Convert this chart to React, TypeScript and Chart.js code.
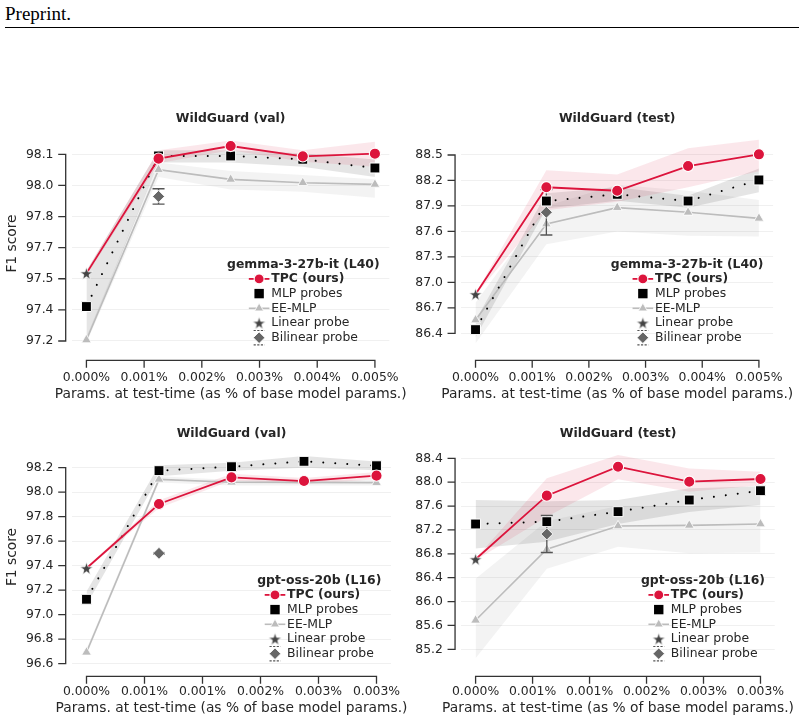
import React, { useEffect, useRef } from "react";
import { Chart, registerables } from "chart.js";

Chart.register(...registerables);

// ---------- data ----------
// x positions: parameters used at test time (% of base model params)
const paramsGemma = [0, 0.00125, 0.0025, 0.00375, 0.005];
const paramsGpt = [0, 0.0008125, 0.001625, 0.0024375, 0.00325];

const xTicksGemma = [0, 0.001, 0.002, 0.003, 0.004, 0.005];
const xTickLabelsGemma = ["0.000%", "0.001%", "0.002%", "0.003%", "0.004%", "0.005%"];
const xTicksGpt = [0, 0.00065, 0.0013, 0.00195, 0.0026, 0.00325];
const xTickLabelsGpt = ["0.000%", "0.001%", "0.001%", "0.002%", "0.003%", "0.003%"];
const xAxisTitle = "Params. at test-time (as % of base model params.)";

// gemma-3-27b-it (L40), WildGuard (val)
const gvTicks = [97.2, 97.35, 97.5, 97.65, 97.8, 97.95, 98.1];
const gvTickLabels = ["97.2", "97.4", "97.5", "97.7", "97.8", "98.0", "98.1"];
const gvTpc = [97.526, 98.079, 98.14, 98.09, 98.103];
const gvTpcLo = [97.515, 98.057, 98.12, 98.064, 98.04];
const gvTpcHi = [97.537, 98.12, 98.166, 98.12, 98.16];
const gvMlp = [97.366, 98.092, 98.092, 98.076, 98.034];
const gvMlpLo = [97.2, 98.06, 98.06, 98.04, 97.99];
const gvMlpHi = [97.54, 98.12, 98.12, 98.105, 98.075];
const gvEe = [97.205, 98.026, 97.979, 97.963, 97.955];
const gvEeLo = [97.19, 97.99, 97.93, 97.92, 97.89];
const gvEeHi = [97.22, 98.06, 98.02, 98.0, 97.98];
const gvLinear = 97.526;
const gvBilinear = 97.897;
const gvBilinearErr = 0.037;

// gemma-3-27b-it (L40), WildGuard (test)
const gtTicks = [86.4, 86.7, 87.0, 87.3, 87.6, 87.9, 88.2, 88.5];
const gtTickLabels = ["86.4", "86.7", "87.0", "87.3", "87.6", "87.9", "88.2", "88.5"];
const gtTpc = [86.859, 88.12, 88.079, 88.37, 88.508];
const gtTpcLo = [86.85, 87.85, 87.95, 88.12, 88.31];
const gtTpcHi = [86.87, 88.32, 88.27, 88.58, 88.68];
const gtMlp = [86.443, 87.958, 88.037, 87.958, 88.206];
const gtMlpLo = [86.35, 87.87, 87.96, 87.88, 88.06];
const gtMlpHi = [86.55, 88.05, 88.12, 88.02, 88.34];
const gtEe = [86.556, 87.687, 87.88, 87.825, 87.754];
const gtEeLo = [86.28, 87.45, 87.6, 87.55, 87.54];
const gtEeHi = [86.76, 87.9, 88.15, 88.08, 87.97];
const gtLinear = 86.859;
const gtBilinear = 87.825;
const gtBilinearErr = 0.267;

// gpt-oss-20b (L16), WildGuard (val)
const ovTicks = [96.6, 96.8, 97.0, 97.2, 97.4, 97.6, 97.8, 98.0, 98.2];
const ovTickLabels = ["96.6", "96.8", "97.0", "97.2", "97.4", "97.6", "97.8", "98.0", "98.2"];
const ovTpc = [97.379, 97.904, 98.121, 98.091, 98.135];
const ovTpcLo = [97.37, 97.87, 98.095, 98.065, 98.105];
const ovTpcHi = [97.39, 97.935, 98.15, 98.115, 98.165];
const ovMlp = [97.126, 98.176, 98.208, 98.252, 98.216];
const ovMlpLo = [97.08, 98.13, 98.175, 98.2, 98.18];
const ovMlpHi = [97.19, 98.22, 98.24, 98.295, 98.25];
const ovEe = [96.693, 98.105, 98.081, 98.08, 98.078];
const ovEeLo = [96.67, 98.08, 98.055, 98.055, 98.055];
const ovEeHi = [96.72, 98.13, 98.1, 98.1, 98.1];
const ovLinear = 97.379;
const ovBilinear = 97.501;
const ovBilinearErr = 0.006;

// gpt-oss-20b (L16), WildGuard (test)
const otTicks = [85.2, 85.6, 86.0, 86.4, 86.8, 87.2, 87.6, 88.0, 88.4];
const otTickLabels = ["85.2", "85.6", "86.0", "86.4", "86.8", "87.2", "87.6", "88.0", "88.4"];
const otTpc = [86.708, 87.774, 88.259, 88.008, 88.053];
const otTpcLo = [86.69, 87.42, 88.05, 87.84, 87.95];
const otTpcHi = [86.72, 88.065, 88.455, 88.23, 88.175];
const otMlp = [87.299, 87.338, 87.506, 87.701, 87.857];
const otMlpLo = [86.89, 87.0, 87.3, 87.5, 87.62];
const otMlpHi = [87.7, 87.68, 87.7, 87.9, 87.93];
const otEe = [85.686, 86.876, 87.266, 87.277, 87.299];
const otEeLo = [85.05, 86.55, 86.92, 86.81, 86.82];
const otEeHi = [86.38, 87.35, 87.6, 87.6, 87.62];
const otLinear = 86.708;
const otBilinear = 87.132;
const otBilinearErr = 0.31;

const seriesNames = ["TPC (ours)", "MLP probes", "EE-MLP", "Linear probe", "Bilinear probe"];

// ---------- styling ----------
const FAMILY = '"DejaVu Sans", sans-serif';
const FS_TICK = 12.4;
const FS_LABEL = 13.8;
const FS_LEGEND = 12.4;
const TEXT = "#262626";
const RED = "#dc143c";
const MLP_COLOR = "#000000";
const EE_COLOR = "#bcbcbc";
const STAR_COLOR = "#444444";
const DIAMOND_COLOR = "#666666";
const ERR_COLOR = "#555555";

let starCache: HTMLCanvasElement | null = null;
function starImage(): HTMLCanvasElement {
  if (starCache) return starCache;
  const size = 15;
  const c = document.createElement("canvas");
  c.width = size;
  c.height = size;
  const g = c.getContext("2d")!;
  const cx = size / 2;
  const cy = size / 2 + 0.6;
  const R = 6.6;
  const r = R * 0.4;
  g.beginPath();
  for (let i = 0; i < 10; i++) {
    const a = -Math.PI / 2 + (i * Math.PI) / 5;
    const rad = i % 2 === 0 ? R : r;
    g.lineTo(cx + rad * Math.cos(a), cy + rad * Math.sin(a));
  }
  g.closePath();
  g.fillStyle = STAR_COLOR;
  g.fill();
  g.strokeStyle = "#ffffff";
  g.lineWidth = 0.7;
  g.stroke();
  starCache = c;
  return c;
}

type PanelSpec = {
  title: string;
  model: string;
  xs: number[];
  xTicks: number[];
  xTickLabels: string[];
  yTicks: number[];
  yTickLabels: string[];
  yMin: number;
  yMax: number;
  tpc: number[];
  tpcLo: number[];
  tpcHi: number[];
  mlp: number[];
  mlpLo: number[];
  mlpHi: number[];
  ee: number[];
  eeLo: number[];
  eeHi: number[];
  linear: number;
  bilinear: number;
  bilinearErr: number;
};

type Frame = {
  left: number;
  top: number;
  width: number;
  height: number;
  yAxisWidth: number;
  padRight: number;
  titleBottom: number;
  xAxisHeight: number;
  xLabelPad: number;
  xTitleOffset: number;
  showYTitle: boolean;
};

// axis spines offset outward and trimmed to the tick range, with tick marks,
// plus the x-axis title (drawn at its natural width, wider than the plot area)
const spinePlugin = {
  id: "offsetSpines",
  afterDraw(chart: any, _args: any, opts: any) {
    const { ctx, chartArea, scales } = chart;
    const x = scales.x;
    const y = scales.y;
    ctx.save();
    ctx.strokeStyle = "#333333";
    ctx.lineWidth = 1.3;
    const sx = chartArea.left - 6.3;
    const yt = y.ticks;
    const yTop = y.getPixelForValue(yt[yt.length - 1].value);
    const yBot = y.getPixelForValue(yt[0].value);
    ctx.beginPath();
    ctx.moveTo(sx, yTop - 0.65);
    ctx.lineTo(sx, yBot + 0.65);
    for (const t of yt) {
      const py = y.getPixelForValue(t.value);
      ctx.moveTo(sx - 7.5, py);
      ctx.lineTo(sx, py);
    }
    ctx.stroke();
    const sy = chartArea.bottom + 10.3;
    const xt = x.ticks;
    const xL = x.getPixelForValue(xt[0].value);
    const xR = x.getPixelForValue(xt[xt.length - 1].value);
    ctx.beginPath();
    ctx.moveTo(xL - 0.65, sy);
    ctx.lineTo(xR + 0.65, sy);
    for (const t of xt) {
      const px = x.getPixelForValue(t.value);
      ctx.moveTo(px, sy);
      ctx.lineTo(px, sy + 7.5);
    }
    ctx.stroke();

    ctx.fillStyle = TEXT;
    ctx.font = `${FS_LABEL}px ${FAMILY}`;
    ctx.textAlign = "center";
    ctx.textBaseline = "middle";
    ctx.fillText(opts.xTitle, (chartArea.left + chartArea.right) / 2, chartArea.bottom + opts.xTitleOffset);
    ctx.restore();
  },
};

function drawHandle(ctx: CanvasRenderingContext2D, kind: number, x0: number, y: number, w: number) {
  const cx = x0 + w / 2;
  ctx.save();
  if (kind === 0) {
    ctx.strokeStyle = RED;
    ctx.lineWidth = 1.8;
    ctx.beginPath();
    ctx.moveTo(x0, y);
    ctx.lineTo(x0 + w, y);
    ctx.stroke();
    ctx.beginPath();
    ctx.arc(cx, y, 5, 0, Math.PI * 2);
    ctx.fillStyle = RED;
    ctx.fill();
    ctx.strokeStyle = "#fff";
    ctx.lineWidth = 1.1;
    ctx.stroke();
  } else if (kind === 1) {
    ctx.fillStyle = MLP_COLOR;
    ctx.fillRect(cx - 4.7, y - 4.7, 9.4, 9.4);
  } else if (kind === 2) {
    ctx.strokeStyle = EE_COLOR;
    ctx.lineWidth = 1.6;
    ctx.beginPath();
    ctx.moveTo(x0, y);
    ctx.lineTo(x0 + w, y);
    ctx.stroke();
    const r = 5.2;
    ctx.beginPath();
    ctx.moveTo(cx, y - r);
    ctx.lineTo(cx + r * 0.866, y + r * 0.5);
    ctx.lineTo(cx - r * 0.866, y + r * 0.5);
    ctx.closePath();
    ctx.fillStyle = EE_COLOR;
    ctx.fill();
    ctx.strokeStyle = "#fff";
    ctx.lineWidth = 0.8;
    ctx.stroke();
  } else if (kind === 3) {
    const img = starImage();
    ctx.drawImage(img, cx - img.width / 2, y - img.height / 2);
  } else {
    ctx.strokeStyle = ERR_COLOR;
    ctx.lineWidth = 1.2;
    ctx.setLineDash([2.2, 1.4]);
    ctx.beginPath();
    ctx.moveTo(cx - 5.5, y - 7.2);
    ctx.lineTo(cx + 5.5, y - 7.2);
    ctx.moveTo(cx - 5.5, y + 7.2);
    ctx.lineTo(cx + 5.5, y + 7.2);
    ctx.stroke();
    ctx.setLineDash([]);
    const r = 5.8;
    ctx.beginPath();
    ctx.moveTo(cx, y - r);
    ctx.lineTo(cx + r, y);
    ctx.lineTo(cx, y + r);
    ctx.lineTo(cx - r, y);
    ctx.closePath();
    ctx.fillStyle = DIAMOND_COLOR;
    ctx.fill();
    ctx.strokeStyle = "#fff";
    ctx.lineWidth = 0.9;
    ctx.stroke();
  }
  ctx.restore();
}

// legend in the lower right of the plot area: bold title, marker handles, labels
const legendPlugin = {
  id: "probeLegend",
  afterDatasetsDraw(chart: any, _args: any, opts: any) {
    const { ctx, chartArea } = chart;
    const rowH = 14.7;
    const handleW = 20.6;
    const gap = 1.8;
    ctx.save();
    ctx.font = `bold ${FS_LEGEND}px ${FAMILY}`;
    const titleW = ctx.measureText(opts.title).width;
    let textW = 0;
    seriesNames.forEach((name, i) => {
      ctx.font = `${i === 0 ? "bold " : ""}${FS_LEGEND}px ${FAMILY}`;
      textW = Math.max(textW, ctx.measureText(name).width);
    });
    const entriesW = handleW + gap + textW;
    const boxW = Math.max(titleW, entriesW);
    const right = chartArea.right - 9.7;
    const cx = right - boxW / 2;
    const lastY = chartArea.bottom - 12.3;
    const firstY = lastY - rowH * (seriesNames.length - 1);
    ctx.textBaseline = "middle";
    ctx.fillStyle = TEXT;
    ctx.textAlign = "center";
    ctx.font = `bold ${FS_LEGEND}px ${FAMILY}`;
    ctx.fillText(opts.title, cx, firstY - 14.4);
    const ex = cx - entriesW / 2;
    ctx.textAlign = "left";
    seriesNames.forEach((name, i) => {
      const y = firstY + i * rowH;
      drawHandle(ctx, i, ex, y, handleW);
      ctx.font = `${i === 0 ? "bold " : ""}${FS_LEGEND}px ${FAMILY}`;
      ctx.fillStyle = TEXT;
      ctx.fillText(name, ex + handleW + gap, y);
    });
    ctx.restore();
  },
};

function buildConfig(p: PanelSpec, f: Frame): any {
  const pts = (ys: number[]) => ys.map((y, i) => ({ x: p.xs[i], y }));
  const xMaxData = p.xs[p.xs.length - 1];
  const tickFont = { family: FAMILY, size: FS_TICK, lineHeight: 1.2 };
  const labelFont = { family: FAMILY, size: FS_LABEL, lineHeight: 1.2 };
  const band = (hi: number[], lo: number[], color: string, order: number) => [
    {
      data: pts(hi),
      fill: "+1",
      backgroundColor: color,
      borderColor: "transparent",
      borderWidth: 0,
      pointRadius: 0,
      order,
    },
    {
      data: pts(lo),
      fill: false,
      borderColor: "transparent",
      borderWidth: 0,
      pointRadius: 0,
      order,
    },
  ];
  return {
    type: "line",
    data: {
      datasets: [
        {
          label: seriesNames[3],
          data: [{ x: p.xs[0], y: p.linear }],
          showLine: false,
          pointStyle: starImage(),
          pointRadius: 7,
          order: 0,
        },
        {
          label: seriesNames[0],
          data: pts(p.tpc),
          borderColor: RED,
          borderWidth: 1.8,
          pointStyle: "circle",
          pointBackgroundColor: RED,
          pointBorderColor: "#ffffff",
          pointBorderWidth: 1.1,
          pointRadius: (c: any) => (c.dataIndex === 0 ? 0 : 5.6),
          order: 1,
        },
        {
          label: seriesNames[1],
          data: pts(p.mlp),
          borderColor: MLP_COLOR,
          borderWidth: 2,
          borderDash: [0.01, 12],
          borderCapStyle: "round",
          pointStyle: "rect",
          pointBackgroundColor: MLP_COLOR,
          pointBorderColor: "#ffffff",
          pointBorderWidth: 1,
          pointRadius: 7,
          order: 2,
        },
        {
          label: seriesNames[4],
          data: [{ x: p.xs[1], y: p.bilinear }],
          showLine: false,
          pointStyle: "rectRot",
          pointBackgroundColor: DIAMOND_COLOR,
          pointBorderColor: "#ffffff",
          pointBorderWidth: 0.9,
          pointRadius: 6,
          order: 3,
        },
        {
          data: [
            { x: p.xs[1], y: p.bilinear - p.bilinearErr },
            { x: p.xs[1], y: p.bilinear + p.bilinearErr },
          ],
          borderColor: ERR_COLOR,
          borderWidth: 1.3,
          pointStyle: "line",
          pointBorderColor: ERR_COLOR,
          pointBorderWidth: 1.3,
          pointRadius: 6,
          order: 4,
        },
        {
          label: seriesNames[2],
          data: pts(p.ee),
          borderColor: EE_COLOR,
          borderWidth: 1.6,
          pointStyle: "triangle",
          pointBackgroundColor: EE_COLOR,
          pointBorderColor: "#ffffff",
          pointBorderWidth: 0.8,
          pointRadius: 5.6,
          order: 5,
        },
        ...band(p.tpcHi, p.tpcLo, "rgba(220,20,60,0.10)", 6),
        ...band(p.mlpHi, p.mlpLo, "rgba(0,0,0,0.10)", 7),
        ...band(p.eeHi, p.eeLo, "rgba(90,90,90,0.07)", 8),
      ],
    },
    options: {
      responsive: false,
      animation: false,
      events: [],
      layout: { padding: { left: 0, right: f.padRight, top: 0, bottom: 0 } },
      elements: { line: { tension: 0 } },
      plugins: {
        legend: { display: false },
        tooltip: { enabled: false },
        title: {
          display: true,
          text: p.title,
          fullSize: false,
          color: TEXT,
          font: { family: FAMILY, size: FS_LEGEND, weight: "bold", lineHeight: 1.2 },
          padding: { top: 10.86, bottom: f.titleBottom },
        },
        probeLegend: { title: p.model },
        offsetSpines: { xTitle: xAxisTitle, xTitleOffset: f.xTitleOffset },
      },
      scales: {
        x: {
          type: "linear",
          min: -0.05 * xMaxData,
          max: 1.05 * xMaxData,
          grid: { display: false, drawTicks: false },
          border: { display: false },
          ticks: {
            autoSkip: false,
            maxRotation: 0,
            minRotation: 0,
            padding: f.xLabelPad,
            color: TEXT,
            font: tickFont,
            callback: (_v: any, i: number) => p.xTickLabels[i],
          },
          afterBuildTicks: (ax: any) => {
            ax.ticks = p.xTicks.map((v) => ({ value: v }));
          },
          afterFit: (s: any) => {
            s.height = f.xAxisHeight;
          },
          title: { display: false },
        },
        y: {
          type: "linear",
          min: p.yMin,
          max: p.yMax,
          grid: { color: "#f0f0f0", lineWidth: 1, drawTicks: false },
          border: { display: false },
          ticks: {
            padding: 18.5,
            color: TEXT,
            font: tickFont,
            callback: (_v: any, i: number) => p.yTickLabels[i],
          },
          afterBuildTicks: (ax: any) => {
            ax.ticks = p.yTicks.map((v) => ({ value: v }));
          },
          afterFit: (s: any) => {
            s.width = f.yAxisWidth;
          },
          title: {
            display: f.showYTitle,
            text: "F1 score",
            color: TEXT,
            font: labelFont,
            padding: { top: 3.72, bottom: 0 },
          },
        },
      },
    },
    plugins: [spinePlugin, legendPlugin],
  };
}

const panels: PanelSpec[] = [
  {
    title: "WildGuard (val)", model: "gemma-3-27b-it (L40)",
    xs: paramsGemma, xTicks: xTicksGemma, xTickLabels: xTickLabelsGemma,
    yTicks: gvTicks, yTickLabels: gvTickLabels, yMin: 97.1566, yMax: 98.1834,
    tpc: gvTpc, tpcLo: gvTpcLo, tpcHi: gvTpcHi,
    mlp: gvMlp, mlpLo: gvMlpLo, mlpHi: gvMlpHi,
    ee: gvEe, eeLo: gvEeLo, eeHi: gvEeHi,
    linear: gvLinear, bilinear: gvBilinear, bilinearErr: gvBilinearErr,
  },
  {
    title: "WildGuard (test)", model: "gemma-3-27b-it (L40)",
    xs: paramsGemma, xTicks: xTicksGemma, xTickLabels: xTickLabelsGemma,
    yTicks: gtTicks, yTickLabels: gtTickLabels, yMin: 86.2033, yMax: 88.712,
    tpc: gtTpc, tpcLo: gtTpcLo, tpcHi: gtTpcHi,
    mlp: gtMlp, mlpLo: gtMlpLo, mlpHi: gtMlpHi,
    ee: gtEe, eeLo: gtEeLo, eeHi: gtEeHi,
    linear: gtLinear, bilinear: gtBilinear, bilinearErr: gtBilinearErr,
  },
  {
    title: "WildGuard (val)", model: "gpt-oss-20b (L16)",
    xs: paramsGpt, xTicks: xTicksGpt, xTickLabels: xTickLabelsGpt,
    yTicks: ovTicks, yTickLabels: ovTickLabels, yMin: 96.5812, yMax: 98.3608,
    tpc: ovTpc, tpcLo: ovTpcLo, tpcHi: ovTpcHi,
    mlp: ovMlp, mlpLo: ovMlpLo, mlpHi: ovMlpHi,
    ee: ovEe, eeLo: ovEeLo, eeHi: ovEeHi,
    linear: ovLinear, bilinear: ovBilinear, bilinearErr: ovBilinearErr,
  },
  {
    title: "WildGuard (test)", model: "gpt-oss-20b (L16)",
    xs: paramsGpt, xTicks: xTicksGpt, xTickLabels: xTickLabelsGpt,
    yTicks: otTicks, yTickLabels: otTickLabels, yMin: 84.9202, yMax: 88.5726,
    tpc: otTpc, tpcLo: otTpcLo, tpcHi: otTpcHi,
    mlp: otMlp, mlpLo: otMlpLo, mlpHi: otMlpHi,
    ee: otEe, eeLo: otEeLo, eeHi: otEeHi,
    linear: otLinear, bilinear: otBilinear, bilinearErr: otBilinearErr,
  },
];

const frames: Frame[] = [
  { left: 0, top: 100, width: 420, height: 310, yAxisWidth: 72, padRight: 25.33, titleBottom: 11.26, xAxisHeight: 60, xLabelPad: 20.06, xTitleOffset: 44.5, showYTitle: true },
  { left: 400, top: 100, width: 404, height: 310, yAxisWidth: 61.35, padRight: 20.35, titleBottom: 11.26, xAxisHeight: 60, xLabelPad: 20.06, xTitleOffset: 44.5, showYTitle: false },
  { left: 0, top: 415, width: 420, height: 309, yAxisWidth: 72, padRight: 25.33, titleBottom: 7.26, xAxisHeight: 58, xLabelPad: 18.56, xTitleOffset: 42.5, showYTitle: true },
  { left: 400, top: 415, width: 404, height: 309, yAxisWidth: 61.35, padRight: 20.35, titleBottom: 7.26, xAxisHeight: 58, xLabelPad: 18.56, xTitleOffset: 42.5, showYTitle: false },
];

function Panel({ spec, frame }: { spec: PanelSpec; frame: Frame }) {
  const ref = useRef<HTMLCanvasElement>(null);
  useEffect(() => {
    const chart = new Chart(ref.current as HTMLCanvasElement, buildConfig(spec, frame));
    return () => chart.destroy();
  }, [spec, frame]);
  return (
    <canvas
      ref={ref}
      width={frame.width}
      height={frame.height}
      style={{
        position: "absolute",
        left: frame.left,
        top: frame.top,
        width: frame.width,
        height: frame.height,
      }}
    />
  );
}

export default function App() {
  return (
    <div
      style={{
        position: "absolute",
        left: 0,
        top: 0,
        width: 804,
        height: 724,
        background: "#ffffff",
        overflow: "hidden",
      }}
    >
      <div
        style={{
          position: "absolute",
          left: 5,
          top: 3,
          fontFamily: '"Liberation Serif", "Times New Roman", serif',
          fontSize: 19,
          color: "#000",
          lineHeight: "normal",
        }}
      >
        Preprint.
      </div>
      <div
        style={{
          position: "absolute",
          left: 5,
          top: 27,
          width: 794,
          height: 1,
          background: "#000",
        }}
      />
      {panels.map((p, i) => (
        <Panel key={i} spec={p} frame={frames[i]} />
      ))}
    </div>
  );
}
